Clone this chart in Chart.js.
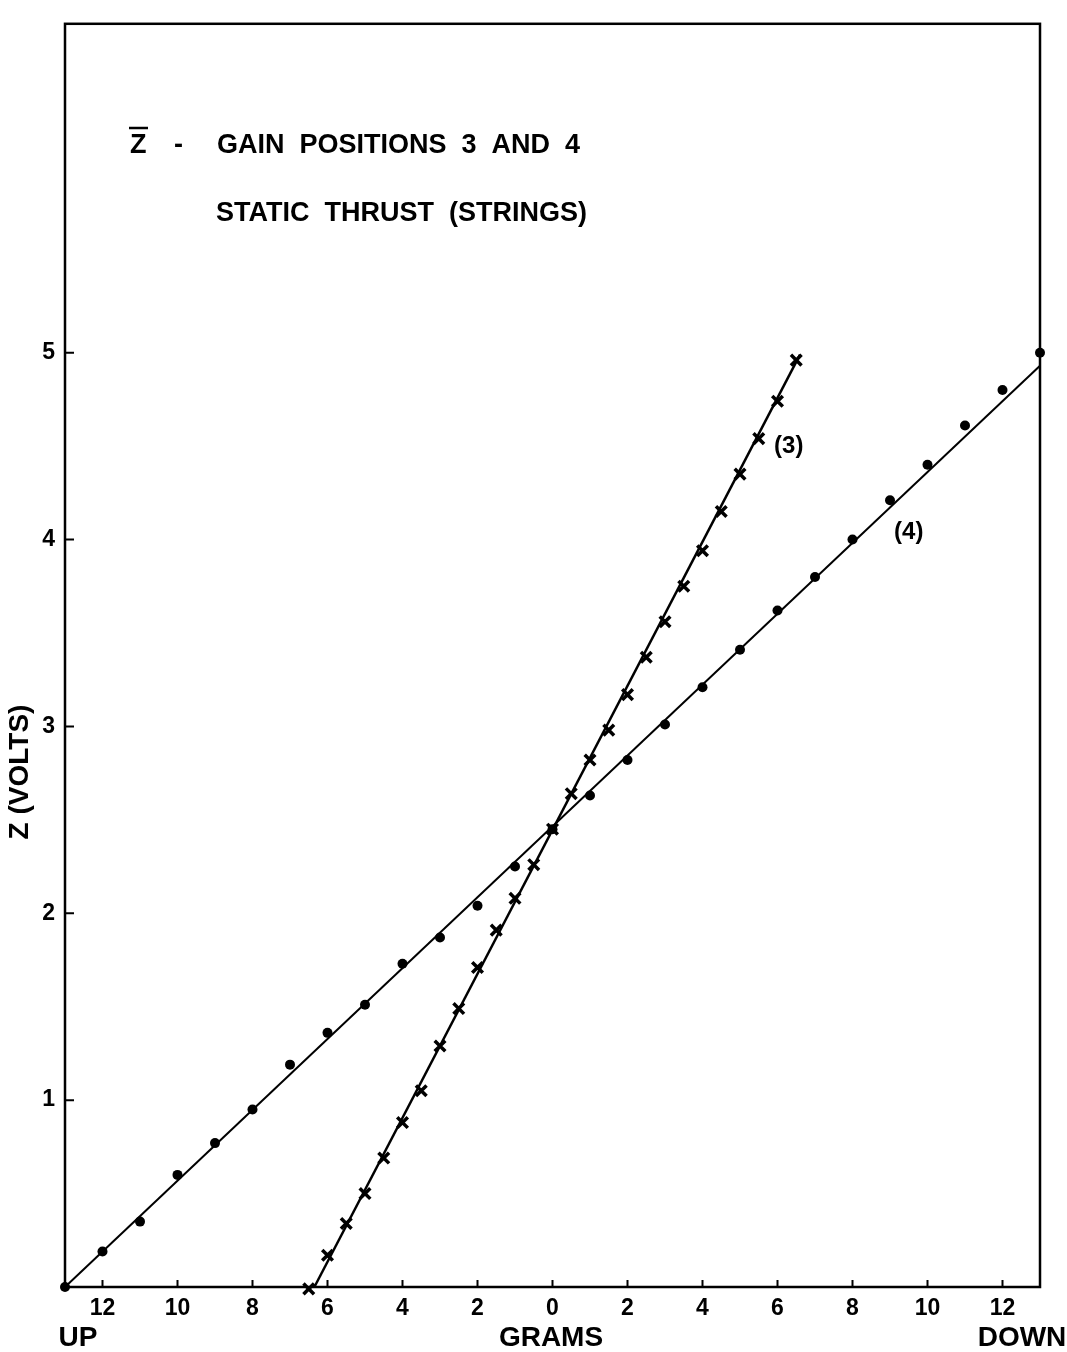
<!DOCTYPE html>
<html>
<head>
<meta charset="utf-8">
<script src="https://cdn.jsdelivr.net/npm/chart.js@4"></script>
<style>
html,body{margin:0;padding:0;background:#fff;}
canvas{display:block;}
</style>
</head>
<body>
<canvas id="c" width="1067" height="1352"></canvas>
<script>
// ---- data ----
const gramsTicks = [-12, -10, -8, -6, -4, -2, 0, 2, 4, 6, 8, 10, 12];
const voltTicks = [1, 2, 3, 4, 5];

// Gain position 3 (crosses)
const pos3Grams = [-6.5, -6, -5.5, -5, -4.5, -4, -3.5, -3, -2.5, -2, -1.5, -1, -0.5, 0, 0.5, 1, 1.5, 2, 2.5, 3, 3.5, 4, 4.5, 5, 5.5, 6, 6.5];
const pos3Volts = [-0.01, 0.17, 0.34, 0.50, 0.69, 0.88, 1.05, 1.29, 1.49, 1.71, 1.91, 2.08, 2.26, 2.45, 2.64, 2.82, 2.98, 3.17, 3.37, 3.56, 3.75, 3.94, 4.15, 4.35, 4.54, 4.74, 4.96];

// Gain position 4 (dots)
const pos4Grams = [-13, -12, -11, -10, -9, -8, -7, -6, -5, -4, -3, -2, -1, 0, 1, 2, 3, 4, 5, 6, 7, 8, 9, 10, 11, 12, 13];
const pos4Volts = [0.00, 0.19, 0.35, 0.60, 0.77, 0.95, 1.19, 1.36, 1.51, 1.73, 1.87, 2.04, 2.25, 2.45, 2.63, 2.82, 3.01, 3.21, 3.41, 3.62, 3.80, 4.00, 4.21, 4.40, 4.61, 4.80, 5.00];

// Faired lines
const fit3Grams = [-6.35, 6.6];
const fit3Volts = [0, 4.99];
const fit4Grams = [-13, 13];
const fit4Volts = [0, 4.93];

// Curve labels
const curveLabels = ['(3)', '(4)'];
const curveLabelGrams = [6.3, 9.5];
const curveLabelVolts = [4.5, 4.04];

const titleZ = 'Z';
const titleDash = '-';
const titleLine1 = 'GAIN  POSITIONS  3  AND  4';
const titleLine2 = 'STATIC  THRUST  (STRINGS)';
const yAxisTitle = 'Z (VOLTS)';
const xAxisTitle = 'GRAMS';
const xLeftNote = 'UP';
const xRightNote = 'DOWN';

const zip = (xs, ys) => xs.map((v, i) => ({x: v, y: ys[i]}));
const FONT = '"Liberation Sans", "DejaVu Sans", sans-serif';

const framePlugin = {
  id: 'frame',
  afterDraw(chart) {
    const {ctx, chartArea: a, scales: {x, y}} = chart;
    ctx.save();
    ctx.strokeStyle = '#000';
    ctx.lineWidth = 2.5;
    ctx.strokeRect(a.left, a.top, a.right - a.left, a.bottom - a.top);
    ctx.lineWidth = 2;
    ctx.beginPath();
    gramsTicks.forEach(g => {
      const px = x.getPixelForValue(g);
      ctx.moveTo(px, a.bottom); ctx.lineTo(px, a.bottom - 7);
    });
    voltTicks.forEach(v => {
      const py = y.getPixelForValue(v);
      ctx.moveTo(a.left, py); ctx.lineTo(a.left + 9, py);
    });
    ctx.stroke();

    ctx.fillStyle = '#000';
    ctx.font = 'bold 24px ' + FONT;
    ctx.textAlign = 'center';
    ctx.textBaseline = 'middle';
    curveLabels.forEach((t, i) => {
      ctx.fillText(t, x.getPixelForValue(curveLabelGrams[i]), y.getPixelForValue(curveLabelVolts[i]));
    });

    // title block
    ctx.textAlign = 'left';
    ctx.textBaseline = 'alphabetic';
    ctx.font = 'bold 27px ' + FONT;
    ctx.fillText(titleZ, 130, 153);
    ctx.lineWidth = 2.5;
    ctx.beginPath();
    ctx.moveTo(129, 128); ctx.lineTo(148, 128);
    ctx.stroke();
    ctx.fillText(titleDash, 174, 153);
    ctx.fillText(titleLine1, 217, 153);
    ctx.fillText(titleLine2, 216, 221);

    // axis titles
    ctx.font = 'bold 28px ' + FONT;
    ctx.textAlign = 'center';
    ctx.textBaseline = 'middle';
    ctx.fillText(xLeftNote, 78, 1338);
    ctx.fillText(xAxisTitle, 551, 1338);
    ctx.fillText(xRightNote, 1022, 1338);
    ctx.save();
    ctx.translate(20, 772);
    ctx.rotate(-Math.PI / 2);
    ctx.fillText(yAxisTitle, 0, 0);
    ctx.restore();
    ctx.restore();
  }
};

new Chart(document.getElementById('c'), {
  type: 'scatter',
  data: {
    datasets: [
      {
        label: 'fit 3', type: 'line', data: zip(fit3Grams, fit3Volts),
        borderColor: '#000', borderWidth: 2.5, pointRadius: 0, fill: false, clip: false
      },
      {
        label: 'fit 4', type: 'line', data: zip(fit4Grams, fit4Volts),
        borderColor: '#000', borderWidth: 2, pointRadius: 0, fill: false, clip: false
      },
      {
        label: 'Gain position 3', data: zip(pos3Grams, pos3Volts),
        pointStyle: 'crossRot', pointRadius: 7.5, pointBorderWidth: 3.5,
        borderColor: '#000', backgroundColor: '#000', clip: false
      },
      {
        label: 'Gain position 4', data: zip(pos4Grams, pos4Volts),
        pointStyle: 'circle', pointRadius: 5, pointBorderWidth: 0,
        borderColor: '#000', backgroundColor: '#000', clip: false
      }
    ]
  },
  options: {
    responsive: false,
    animation: false,
    layout: {padding: {top: 18, right: 27, left: 0, bottom: 0}},
    plugins: {legend: {display: false}, tooltip: {enabled: false}},
    scales: {
      x: {
        type: 'linear', min: -13, max: 13,
        afterBuildTicks: s => { s.ticks = gramsTicks.map(v => ({value: v})); },
        afterFit: s => { s.height = 65; },
        grid: {display: false, drawTicks: false},
        border: {display: false},
        ticks: {
          callback: v => String(Math.abs(v)), color: '#000', padding: 8,
          font: {family: FONT, size: 23, weight: 'bold'}, maxRotation: 0, autoSkip: false
        },
        title: {display: false}
      },
      y: {
        type: 'linear', min: 0, max: 6.76,
        afterBuildTicks: s => { s.ticks = voltTicks.map(v => ({value: v})); },
        afterFit: s => { s.width = 65; },
        grid: {display: false, drawTicks: false},
        border: {display: false},
        ticks: {
          color: '#000', padding: 10,
          font: {family: FONT, size: 23, weight: 'bold'}, autoSkip: false
        },
        title: {display: false}
      }
    }
  },
  plugins: [framePlugin]
});
</script>
</body>
</html>
